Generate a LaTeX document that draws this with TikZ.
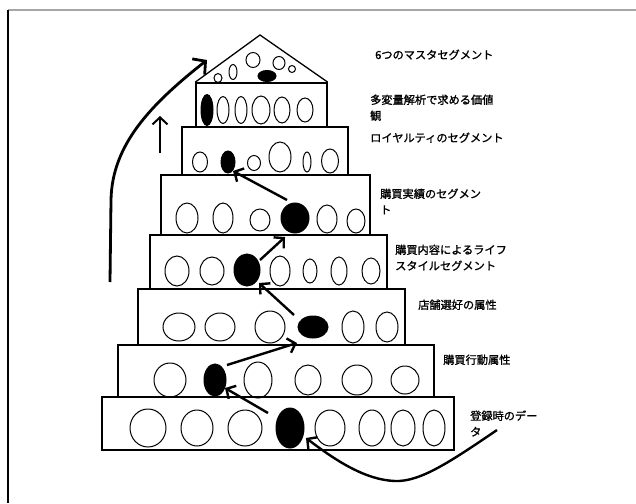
\documentclass[tikz,border=0pt]{standalone}
\usepackage{fontspec}
\newfontfamily\cjk[FakeBold=1.2]{Noto Sans CJK JP}
\usetikzlibrary{arrows.meta,shapes.geometric}
\begin{document}
\begin{tikzpicture}[x=1pt,y=-1pt,
  layer/.style={draw, line width=1.6pt, rectangle, inner sep=0pt},
  egg/.style={draw, ellipse, line width=1pt, inner sep=0pt},
  dot/.style={egg, fill=black},
  lbl/.style={anchor=base west, font=\cjk\fontsize{11.2}{13}\selectfont, inner sep=0pt},
  arr/.style={line width=2.4pt, -{Straight Barb[length=7pt,width=15pt]}},
  bigarr/.style={line width=2.8pt, -{Straight Barb[length=9pt,width=20pt]}},
]
\useasboundingbox (0,0) rectangle (636,503);
% frame
\draw[gray!70, line width=1.2pt] (8,10) -- (636,10);
\draw[black, line width=1.2pt] (8,10) -- (8,503);

% layers
\node[layer, minimum width=131pt, minimum height=44pt] (L1) at (261.5,105) {};
\node[layer, minimum width=166pt, minimum height=48pt] (L2) at (265,151) {};
\node[layer, minimum width=209pt, minimum height=60pt] (L3) at (265.5,205) {};
\node[layer, minimum width=237pt, minimum height=54pt] (L4) at (268.5,262) {};
\node[layer, minimum width=267pt, minimum height=56pt] (L5) at (271.5,317) {};
\node[layer, minimum width=316pt, minimum height=52pt] (L6) at (276,371) {};
\node[layer, minimum width=352pt, minimum height=53pt] (L7) at (278,423.5) {};

% roof
\draw[line width=1.3pt] (L1.north west) -- (260,35) -- (L1.north east);
\foreach \x/\y/\w/\h [count=\i] in {218/78/8/9, 233/72/8/15, 253/60/14/15, 279/63/12/13, 292/69/7/7}
  \node[egg, minimum width=\w pt, minimum height=\h pt] (e0-\i) at (\x,\y) {};
\node[dot, minimum width=18pt, minimum height=11pt] (d0) at (267,76) {};

% layer 1
\node[dot, minimum width=12pt, minimum height=31pt] (d1) at (207,110) {};
\foreach \x/\w/\h [count=\i] in {223/12/27, 241/12/27, 261/18/28, 282/16/26, 305/16/24}
  \node[egg, minimum width=\w pt, minimum height=\h pt] (e1-\i) at (\x,110) {};

% layer 2
\node[dot, minimum width=14pt, minimum height=22pt] (d2) at (228,162) {};
\foreach \x/\y/\w/\h [count=\i] in {200/162/15/20, 254/163/13/15, 280/157/22/30, 307/162/8/20, 330/161/17/24}
  \node[egg, minimum width=\w pt, minimum height=\h pt] (e2-\i) at (\x,\y) {};

% layer 3
\node[dot, minimum width=28pt, minimum height=30pt] (d3) at (295,218) {};
\foreach \x/\y/\w/\h [count=\i] in {187/218/22/30, 223/218/20/30, 260/220/20/22, 327/219/20/28, 356/221/18/24}
  \node[egg, minimum width=\w pt, minimum height=\h pt] (e3-\i) at (\x,\y) {};

% layer 4
\node[dot, minimum width=26pt, minimum height=32pt] (d4) at (247,270) {};
\foreach \x/\w/\h [count=\i] in {177/24/30, 212/24/28, 280/20/30, 310/14/24, 339/16/28, 371/18/26}
  \node[egg, minimum width=\w pt, minimum height=\h pt] (e4-\i) at (\x,271) {};

% layer 5
\node[dot, minimum width=30pt, minimum height=22pt] (d5) at (313,327) {};
\foreach \x/\w/\h [count=\i] in {179/32/28, 220/30/28, 270/30/32, 353/22/32, 387/22/30}
  \node[egg, minimum width=\w pt, minimum height=\h pt] (e5-\i) at (\x,327) {};

% layer 6
\node[dot, minimum width=22pt, minimum height=32pt] (d6) at (215,380) {};
\foreach \x/\w/\h [count=\i] in {170/32/34, 258/28/36, 308/26/30, 357/30/30, 405/28/28}
  \node[egg, minimum width=\w pt, minimum height=\h pt] (e6-\i) at (\x,380) {};

% layer 7
\node[dot, minimum width=28pt, minimum height=40pt] (d7) at (290,428) {};
\foreach \x/\w/\h [count=\i] in {148/36/38, 197/32/36, 245/34/36, 330/30/36, 372/26/36, 403/24/36, 434/22/36}
  \node[egg, minimum width=\w pt, minimum height=\h pt] (e7-\i) at (\x,428) {};

% labels
\node[lbl] (t0) at (375,59) {6つのマスタセグメント};
\node[lbl] (t1a) at (370,104) {多変量解析で求める価値};
\node[lbl] (t1b) at (370,120) {観};
\node[lbl] (t2) at (370,142) {ロイヤルティのセグメント};
\node[lbl] (t3a) at (380,198) {購買実績のセグメン};
\node[lbl] (t3b) at (380,214) {ト};
\node[lbl] (t4a) at (395,254) {購買内容によるライフ};
\node[lbl] (t4b) at (395,270) {スタイルセグメント};
\node[lbl] (t5) at (418,309) {店舗選好の属性};
\node[lbl] (t6) at (443,364) {購買行動属性};
\node[lbl] (t7a) at (470,420) {登録時のデー};
\node[lbl] (t7b) at (470,436) {タ};

% arrow coordinates
\coordinate (s1) at (497,430); \coordinate (h1) at (306,438);
\coordinate (s2) at (268,413); \coordinate (h2) at (225,388);
\coordinate (s3) at (227,365); \coordinate (h3) at (297,343);
\coordinate (s4) at (294,315); \coordinate (h4) at (259,283);
\coordinate (s5) at (260,260); \coordinate (h5) at (285,237);
\coordinate (s6) at (287,200); \coordinate (h6) at (233,171);
\coordinate (s7) at (160,153); \coordinate (h7) at (160,116);
\coordinate (s8) at (110,282); \coordinate (m8) at (111,200); \coordinate (h8) at (207,60);

\draw[arr] (s1) .. controls (450,462) and (420,482) .. (395,481)
           .. controls (365,480) and (335,460) .. (h1);
\draw[arr] (s2) -- (h2);
\draw[arr] (s3) -- (h3);
\draw[arr] (s4) -- (h4);
\draw[arr] (s5) -- (h5);
\draw[arr] (s6) -- (h6);
\draw[arr, line width=2pt] (s7) -- (h7);
\draw[bigarr] (s8) -- (m8) .. controls (112,145) and (150,105) .. (h8);
\end{tikzpicture}
\end{document}
